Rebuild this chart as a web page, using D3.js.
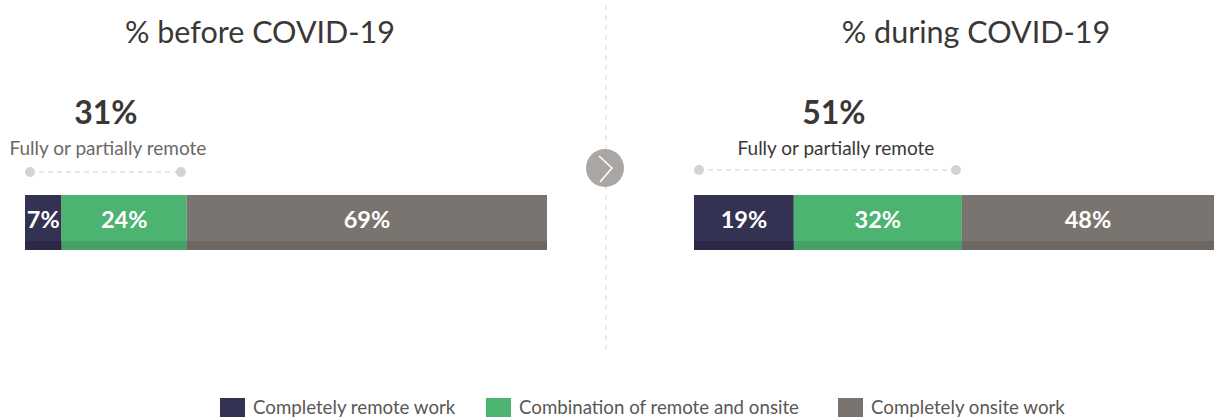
<!DOCTYPE html>
<html>
<head>
<meta charset="utf-8">
<script src="https://cdn.jsdelivr.net/npm/d3@7"></script>
<style>
  body { margin: 0; background: #fff; }
  text { font-family: Lato, "Open Sans", sans-serif; }
</style>
</head>
<body>
<svg width="1214" height="417"></svg>
<script>
// chart data
const categories = ["Completely remote work", "Combination of remote and onsite", "Completely onsite work"];
const panels = ["% before COVID-19", "% during COVID-19"];
const beforeValues = [7, 24, 69];
const duringValues = [19, 32, 48];
const remoteTotals = [31, 51];
const remoteLabel = "Fully or partially remote";

const colors = ["#343253", "#4db371", "#79746f"];
const darkColors = ["#2b2946", "#47a066", "#6c6763"];

const svg = d3.select("svg");

// layout of the two panels
const panelBox = [
  { x0: 25, x1: 547, titleX: 260 },
  { x0: 694, x1: 1214, titleX: 976 }
];
const barTop = 195, barH = 55, stripH = 9;

[beforeValues, duringValues].forEach((vals, i) => {
  const box = panelBox[i];
  const total = d3.sum(vals);
  const x = d3.scaleLinear().domain([0, total]).range([box.x0, box.x1]);
  const starts = d3.cumsum([0].concat(vals)).slice(0, vals.length);
  const segs = vals.map((v, j) => ({ v, start: starts[j], j }));

  const g = svg.append("g");

  g.append("text")
    .attr("x", box.titleX)
    .attr("y", 43)
    .attr("text-anchor", "middle")
    .attr("font-size", 30.5)
    .attr("fill", "#3a3735")
    .text(panels[i]);

  g.selectAll("rect.main")
    .data(segs)
    .enter()
    .append("rect")
    .attr("x", (d) => x(d.start))
    .attr("y", barTop)
    .attr("width", (d) => x(d.start + d.v) - x(d.start))
    .attr("height", barH)
    .attr("fill", (d) => colors[d.j]);

  g.selectAll("rect.strip")
    .data(segs)
    .enter()
    .append("rect")
    .attr("x", (d) => x(d.start))
    .attr("y", barTop + barH - stripH)
    .attr("width", (d) => x(d.start + d.v) - x(d.start))
    .attr("height", stripH)
    .attr("fill", (d) => darkColors[d.j]);

  g.selectAll("text.val")
    .data(segs)
    .enter()
    .append("text")
    .attr("x", (d) => (x(d.start) + x(d.start + d.v)) / 2)
    .attr("y", barTop + 33)
    .attr("text-anchor", "middle")
    .attr("font-size", 23.5)
    .attr("font-weight", "bold")
    .attr("fill", "#fff")
    .text((d) => d.v + "%");

  // bracket over the remote part
  const rx0 = x(0) + 5;
  const rx1 = x(vals[0] + vals[1]) - 6;
  const ry = i === 0 ? 172 : 170;
  g.append("line")
    .attr("x1", rx0).attr("x2", rx1)
    .attr("y1", ry).attr("y2", ry)
    .attr("stroke", "#cfcfcf")
    .attr("stroke-width", 1.2)
    .attr("stroke-dasharray", "5,4");
  g.selectAll("circle.dot")
    .data([rx0, rx1])
    .enter()
    .append("circle")
    .attr("cx", (d) => d)
    .attr("cy", ry)
    .attr("r", 5)
    .attr("fill", "#d3d3d3");

  const cx = (x(0) + x(vals[0] + vals[1])) / 2 + (i === 0 ? 0 : 6);
  g.append("text")
    .attr("x", cx)
    .attr("y", 124)
    .attr("text-anchor", "middle")
    .attr("font-size", 32)
    .attr("font-weight", "bold")
    .attr("fill", "#3a3735")
    .text(remoteTotals[i] + "%");
  g.append("text")
    .attr("x", cx + 2)
    .attr("y", 155)
    .attr("text-anchor", "middle")
    .attr("font-size", 19)
    .attr("fill", i === 0 ? "#6b6866" : "#3a3735")
    .text(remoteLabel);
});

// divider and arrow
svg.append("line")
  .attr("x1", 606).attr("x2", 606)
  .attr("y1", 5).attr("y2", 352)
  .attr("stroke", "#d6d6d6")
  .attr("stroke-width", 1)
  .attr("stroke-dasharray", "5,5");
svg.append("circle")
  .attr("cx", 605).attr("cy", 168).attr("r", 19)
  .attr("fill", "#a9a6a3");
svg.append("path")
  .attr("d", "M599,156 L612,168 L600,182")
  .attr("fill", "none")
  .attr("stroke", "#fff")
  .attr("stroke-width", 1.6);

// legend
const legendX = [220, 486, 838];
const legend = svg.selectAll("g.legend")
  .data(categories)
  .enter()
  .append("g")
  .attr("transform", (d, i) => `translate(${legendX[i]},398)`);
legend.append("rect")
  .attr("width", 25)
  .attr("height", 20)
  .attr("fill", (d, i) => colors[i]);
legend.append("text")
  .attr("x", 33)
  .attr("y", 16)
  .attr("font-size", 18.7)
  .attr("fill", "#5a5755")
  .text((d) => d);
</script>
</body>
</html>
